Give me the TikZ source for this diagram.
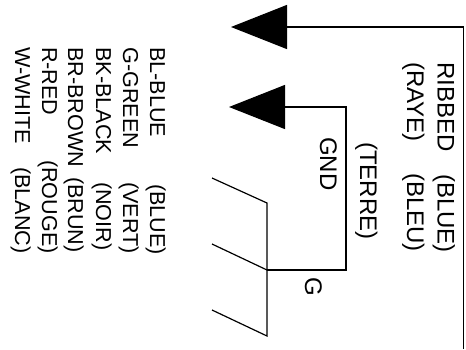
\documentclass[tikz,border=0pt]{standalone}
\usepackage{fontspec}
\setmainfont{Liberation Sans}
\usetikzlibrary{arrows.meta}
\tikzset{
    wire/.style={draw,line width=1.2pt},
    bigtip/.style={-{Triangle[length=56pt,width=44pt]}},
    lbl/.style={rotate=-90,anchor=base west,inner sep=0pt,font=\fontsize{24}{24}\selectfont},
    keylbl/.style={lbl,font=\fontsize{21.6}{22}\selectfont},
}
\begin{document}
\begin{tikzpicture}[x=1pt,y=-1pt]
    \useasboundingbox (0,0) rectangle (466,349);
    % RIBBED lead
    \coordinate (tipA) at (231,27);
    \coordinate (bendA) at (463.5,27);
    \coordinate (endA) at (463.5,349);
    \draw[wire,bigtip] (endA) -- (bendA) -- (tipA);
    % GND lead
    \coordinate (tipB) at (229,107);
    \coordinate (bendB) at (346,107);
    \coordinate (bendC) at (346,270);
    \coordinate (tee) at (267,270);
    \draw[wire,bigtip] (tee) -- (bendC) -- (bendB) -- (tipB);
    % Shield
    \coordinate (topS) at (267,203);
    \coordinate (botS) at (267,336);
    \coordinate (slA) at (212,178);
    \coordinate (slB) at (212,244);
    \coordinate (slC) at (212,310);
    \draw[wire] (slA) -- (topS) -- (botS) -- (slC);
    \draw[wire] (slB) -- (tee);
    % Labels
    \node[lbl] (ribbed) at (437.5,62) {RIBBED};
    \node[lbl] (blue) at (437.5,174) {(BLUE)};
    \node[lbl] (raye) at (407,62) {(RAYE)};
    \node[lbl] (bleu) at (407,173) {(BLEU)};
    \node[lbl] (terre) at (360,142) {(TERRE)};
    \node[lbl] (gnd) at (320,137) {GND};
    \node[lbl] (g) at (305,277) {G};
    % Legend
    \foreach \name/\base/\code/\start/\fr in {a/150/BL-BLUE/184/(BLUE), b/123/G-GREEN/182/(VERT), c/96/BK-BLACK/182/(NOIR), d/68/BR-BROWN/177/(BRUN), e/42/R-RED/160/(ROUGE), f/15/W-WHITE/167/(BLANC)} {
        \node[keylbl] (key\name) at (\base,47) {\code};
        \node[keylbl] (fr\name) at (\base,\start) {\fr};
    }
\end{tikzpicture}
\end{document}
